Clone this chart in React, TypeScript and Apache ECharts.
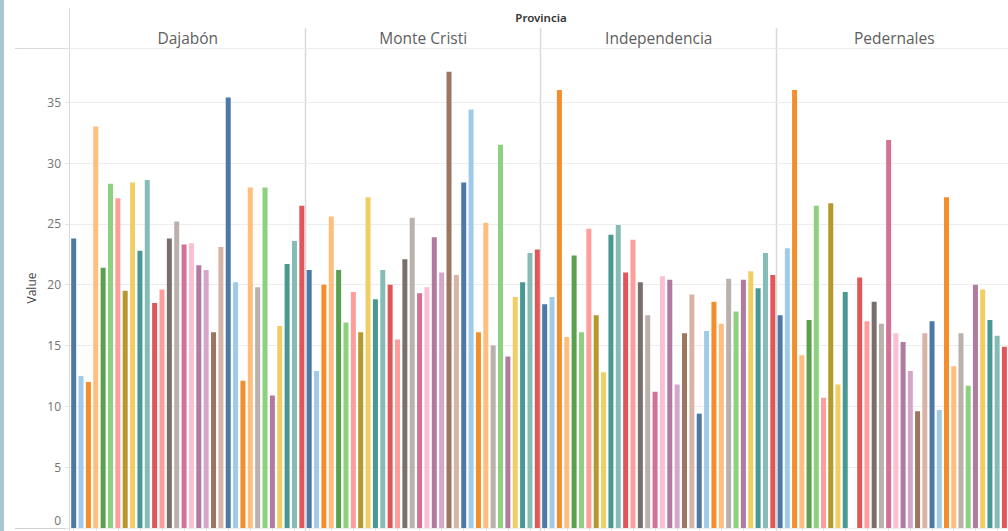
import React, { useEffect, useRef } from "react";
import * as echarts from "echarts";

const PANELS = ["Dajabón", "Monte Cristi", "Independencia", "Pedernales"];
const COLUMN_HEADER = "Provincia";
const Y_TITLE = "Value";

const CATEGORIES = [
  "01", "02", "03", "04", "05", "06", "07", "08", "09", "10", "11", "12", "13", "14", "15", "16",
  "17", "18", "19", "20", "21", "22", "23", "24", "25", "26", "27", "28", "29", "30", "31", "32",
];

const dajabon = [23.8, 12.5, 12.0, 33.0, 21.4, 28.3, 27.1, 19.5, 28.4, 22.8, 28.6, 18.5, 19.6, 23.8, 25.2, 23.3,
  23.4, 21.6, 21.2, 16.1, 23.1, 35.4, 20.2, 12.1, 28.0, 19.8, 28.0, 10.9, 16.6, 21.7, 23.6, 26.5];
const monteCristi = [21.2, 12.9, 20.0, 25.6, 21.2, 16.9, 19.4, 16.1, 27.2, 18.8, 21.2, 20.0, 15.5, 22.1, 25.5, 19.3,
  19.8, 23.9, 21.0, 37.5, 20.8, 28.4, 34.4, 16.1, 25.1, 15.0, 31.5, 14.1, 19.0, 20.2, 22.6, 22.9];
const independencia = [18.4, 19.0, 36.0, 15.7, 22.4, 16.1, 24.6, 17.5, 12.8, 24.1, 24.9, 21.0, 23.7, 20.2, 17.5, 11.2,
  20.7, 20.4, 11.8, 16.0, 19.2, 9.4, 16.2, 18.6, 16.8, 20.5, 17.8, 20.4, 21.1, 19.7, 22.6, 20.8];
const pedernales = [17.5, 23.0, 36.0, 14.2, 17.1, 26.5, 10.7, 26.7, 11.8, 19.4, null, 20.6, 17.0, 18.6, 16.8, 31.9,
  16.0, 15.3, 12.9, 9.6, 16.0, 17.0, 9.7, 27.2, 13.3, 16.0, 11.7, 20.0, 19.6, 17.1, 15.8, 14.9];

const PANEL_VALUES = [dajabon, monteCristi, independencia, pedernales];

const BAR_COLORS = [
  "#4E79A7", "#A0CBE8", "#F28E2B", "#FFBE7D", "#59A14F", "#8CD17D", "#FF9D9A", "#B6992D",
  "#F1CE63", "#499894", "#86BCB6", "#E15759", "#FF9D9A", "#79706E", "#BAB0AC", "#D37295",
  "#FABFD2", "#B07AA1", "#D4A6C8", "#9D7660", "#D7B5A6", "#4E79A7", "#A0CBE8", "#F28E2B",
  "#FFBE7D", "#BAB0AC", "#8CD17D", "#B07AA1", "#F1CE63", "#499894", "#86BCB6", "#E15759",
];

const W = 1008;
const H = 531;
const AXIS_X = 70;
const PANEL_W = 235.5;
const GRID_TOP = 48;
const GRID_BOTTOM = 528;
const Y_MAX = 39.46;
const FONT = "'Open Sans', 'Noto Sans', sans-serif";
const LINE_COLOR = "#d9d9d9";

export default function App() {
  const ref = useRef<HTMLDivElement>(null);
  useEffect(() => {
    if (!ref.current) return;
    const chart = echarts.init(ref.current, null, { renderer: "svg" });

    const grids = PANELS.map((_, i) => ({
      left: AXIS_X + i * PANEL_W,
      top: GRID_TOP,
      width: PANEL_W,
      height: GRID_BOTTOM - GRID_TOP,
    }));

    const xAxes = PANELS.map((_, i) => ({
      type: "category",
      gridIndex: i,
      data: CATEGORIES,
      axisLabel: { show: false },
      axisLine: { show: false },
      axisTick: { show: true, alignWithLabel: true, length: 3, lineStyle: { color: "#e3e3e3" } },
      splitLine: { show: false },
    }));

    const yAxes = PANELS.map((_, i) => ({
      type: "value",
      gridIndex: i,
      min: 0,
      max: Y_MAX,
      interval: 5,
      axisLine: { show: false },
      axisTick: { show: i === 0, length: 5, lineStyle: { color: "#e3e3e3" } },
      axisLabel: {
        show: i === 0,
        margin: 9,
        color: "#727272",
        fontSize: 12,
        fontFamily: FONT,
        formatter: (v: number) => {
          if (v === 0) return "{z|0}";
          return Math.abs(v % 5) < 1e-9 ? String(v) : "";
        },
        rich: {
          z: { color: "#727272", fontSize: 12, fontFamily: FONT, padding: [0, 0, 16, 0] },
        },
      },
      splitLine: { show: true, lineStyle: { color: "#ededed", width: 1 } },
      name: i === 0 ? Y_TITLE : "",
      nameLocation: "middle",
      nameGap: 33,
      nameTextStyle: { color: "#444", fontSize: 12, fontFamily: FONT },
    }));

    const series = PANEL_VALUES.map((vals, i) => ({
      type: "bar",
      name: PANELS[i],
      xAxisIndex: i,
      yAxisIndex: i,
      barWidth: 5,
      data: vals.map((v, j) => ({ value: v, itemStyle: { color: BAR_COLORS[j] } })),
    }));

    const graphics: any[] = [
      { type: "rect", shape: { x: 0, y: 0, width: 4, height: H }, style: { fill: "#a8c7d1" }, silent: true },
      {
        type: "text",
        x: AXIS_X + (PANEL_W * PANELS.length) / 2,
        y: 17,
        style: { text: COLUMN_HEADER, fill: "#333", font: `600 11.5px 'Noto Sans', sans-serif`, align: "center", verticalAlign: "middle" },
      },
      { type: "line", shape: { x1: 15, y1: GRID_TOP + 0.5, x2: W, y2: GRID_TOP + 0.5 }, style: { stroke: LINE_COLOR, lineWidth: 1 } },
      { type: "line", shape: { x1: 15, y1: GRID_BOTTOM + 0.5, x2: W, y2: GRID_BOTTOM + 0.5 }, style: { stroke: "#cfcfcf", lineWidth: 1 } },
      { type: "line", shape: { x1: AXIS_X - 0.5, y1: 8, x2: AXIS_X - 0.5, y2: H }, style: { stroke: LINE_COLOR, lineWidth: 1 } },
    ];
    PANELS.forEach((p, i) => {
      graphics.push({
        type: "text",
        x: AXIS_X + i * PANEL_W + PANEL_W / 2,
        y: 38,
        style: { text: p, fill: "#5e5e5e", font: `15.5px ${FONT}`, align: "center", verticalAlign: "middle" },
      });
      if (i > 0) {
        const x = Math.round(AXIS_X + i * PANEL_W) - 0.5;
        graphics.push({
          type: "line",
          shape: { x1: x, y1: 28, x2: x, y2: H },
          style: { stroke: LINE_COLOR, lineWidth: 1.5 },
        });
      }
    });

    chart.setOption({
      animation: false,
      backgroundColor: "#ffffff",
      grid: grids,
      xAxis: xAxes,
      yAxis: yAxes,
      series,
      graphic: graphics,
    });
    return () => chart.dispose();
  }, []);

  return (
    <div
      ref={ref}
      style={{ position: "fixed", left: 0, top: 0, width: W, height: H, background: "#fff" }}
    />
  );
}
